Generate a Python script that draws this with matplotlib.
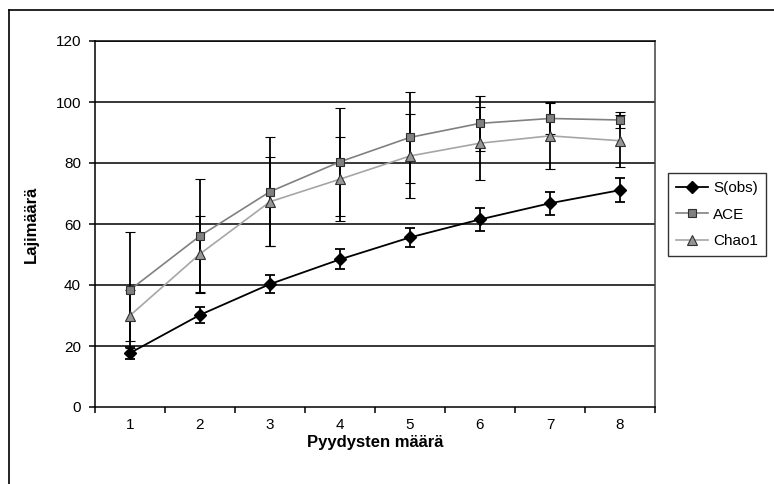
import matplotlib.pyplot as plt
from matplotlib.lines import Line2D

plt.rcParams["font.family"] = ["Liberation Sans", "DejaVu Sans"]
plt.rcParams["font.size"] = 11

# --------------------------------------------------
# Data
# --------------------------------------------------
traps = [1, 2, 3, 4, 5, 6, 7, 8]

s_obs = [17.7, 30.2, 40.3, 48.4, 55.6, 61.5, 66.8, 71.1]
s_obs_sd = [2.0, 2.5, 3.0, 3.3, 3.2, 3.8, 3.8, 4.0]

ace = [38.4, 56.1, 70.6, 80.4, 88.4, 93.0, 94.6, 94.1]
ace_sd = [19.0, 18.7, 17.8, 17.7, 14.8, 9.1, 5.2, 2.5]

chao1 = [30.0, 50.2, 67.3, 74.7, 82.3, 86.5, 88.9, 87.3]
chao1_sd = [8.5, 12.5, 14.6, 13.7, 13.8, 12.0, 11.0, 8.5]

y_ticks = [0, 20, 40, 60, 80, 100, 120]

# --------------------------------------------------
# Figure
# --------------------------------------------------
fig = plt.figure(figsize=(7.74, 4.84), dpi=100)
ax = fig.add_axes([95 / 774, 1 - 407 / 484, 560 / 774, 366 / 484])

# outer chart border (only top/left are visible in the crop)
fig.add_artist(Line2D([9 / 774, 9 / 774], [1 - 10 / 484, -0.1],
                      transform=fig.transFigure, color="black", lw=1.2))
fig.add_artist(Line2D([9 / 774, 1.1], [1 - 10 / 484, 1 - 10 / 484],
                      transform=fig.transFigure, color="black", lw=1.2))

for yv in y_ticks[1:]:
    ax.axhline(yv, color="black", lw=1.1, zorder=1)

err_kw = dict(ecolor="black", elinewidth=1.3, capsize=3.8, capthick=1.3)

ace_style = dict(color="#808080", lw=1.2, marker="s", markersize=5.5,
                 markerfacecolor="#808080", markeredgecolor="#303030",
                 markeredgewidth=0.8)
chao_style = dict(color="#a6a6a6", lw=1.2, marker="^", markersize=7,
                  markerfacecolor="#969696", markeredgecolor="#303030",
                  markeredgewidth=0.8)
sobs_style = dict(color="black", lw=1.3, marker="D", markersize=6,
                  markerfacecolor="black", markeredgecolor="black")

ax.errorbar(traps, ace, yerr=ace_sd, zorder=3, **ace_style, **err_kw)
ax.errorbar(traps, chao1, yerr=chao1_sd, zorder=3, **chao_style, **err_kw)
ax.errorbar(traps, s_obs, yerr=s_obs_sd, zorder=4, **sobs_style, **err_kw)

ax.set_xlim(0.5, 8.5)
ax.set_ylim(0, 120)

# category axis: ticks between categories, labels centred
ax.set_xticks([i + 0.5 for i in range(0, 9)])
ax.set_xticklabels([])
ax.set_xticks(traps, minor=True)
ax.set_xticklabels([str(t) for t in traps], minor=True)
ax.tick_params(axis="x", which="major", direction="out", length=4, width=1.1)
ax.tick_params(axis="x", which="minor", length=0, pad=8)

ax.set_yticks(y_ticks)
ax.tick_params(axis="y", direction="out", length=4, width=1.1, pad=6)

for side in ["left", "bottom", "top"]:
    ax.spines[side].set_color("black")
    ax.spines[side].set_linewidth(1.1)
ax.spines["right"].set_color("#404040")
ax.spines["right"].set_linewidth(1.1)

ax.set_xlabel("Pyydysten määrä", fontweight="bold", fontsize=12, labelpad=2)
ax.set_ylabel("Lajimäärä", fontweight="bold", fontsize=12, labelpad=12)

handles = [Line2D([], [], **sobs_style),
           Line2D([], [], **ace_style),
           Line2D([], [], **chao_style)]
labels = ["S(obs)", "ACE", "Chao1"]
leg = fig.legend(handles, labels,
                 loc="upper left", bbox_to_anchor=(668 / 774, 1 - 173 / 484),
                 frameon=True, fancybox=False, edgecolor="black",
                 handlelength=2.1, handletextpad=0.3, borderpad=0.55,
                 labelspacing=0.8, borderaxespad=0)
leg.get_frame().set_linewidth(1.0)

fig.savefig("out.png", dpi=100)
